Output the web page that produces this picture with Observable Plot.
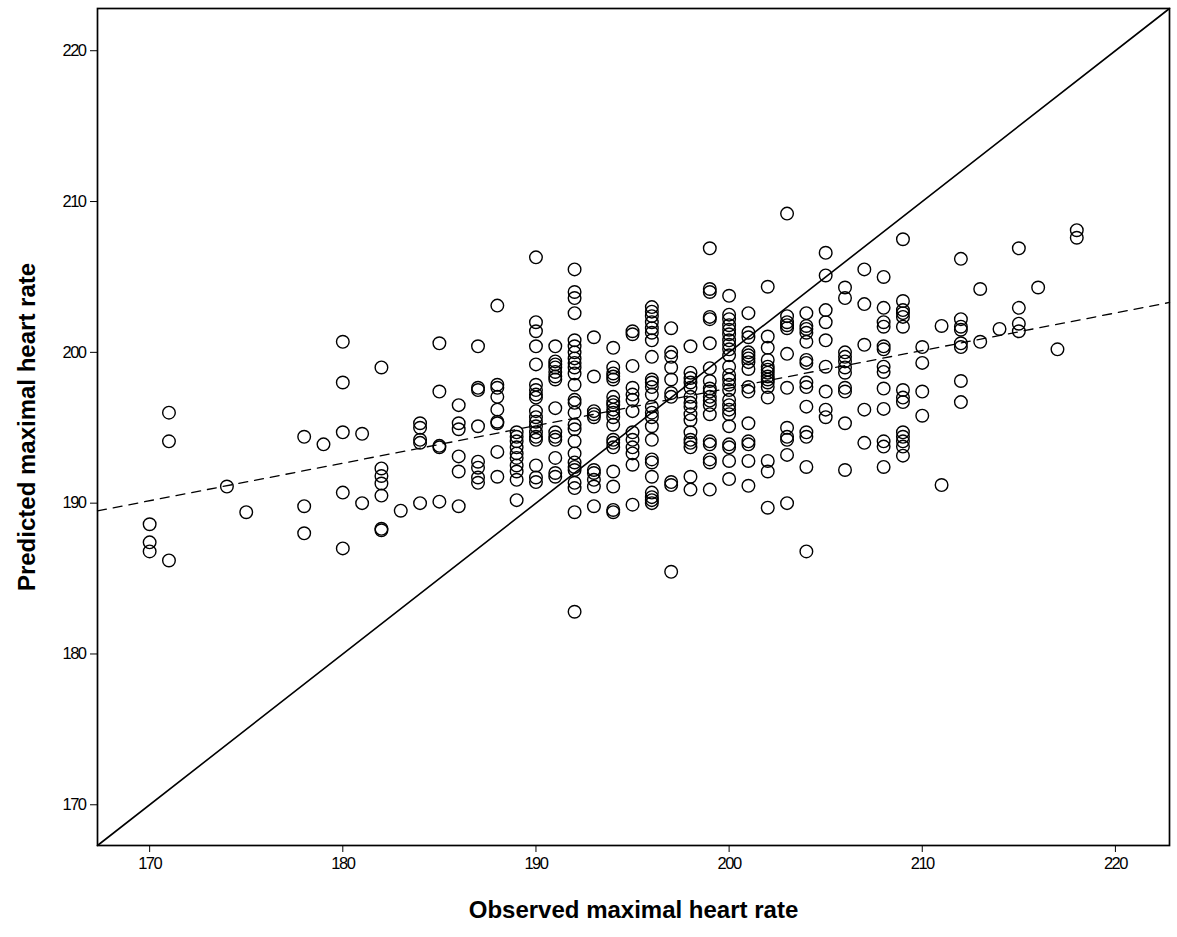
<!DOCTYPE html>
<html>
<head>
<meta charset="utf-8">
<script src="https://cdn.jsdelivr.net/npm/d3@7"></script>
<script src="https://cdn.jsdelivr.net/npm/@observablehq/plot@0.6"></script>
<style>
  html, body { margin: 0; padding: 0; background: #fff; }
  #chart { width: 1177px; height: 937px; }
</style>
</head>
<body>
<div id="chart"></div>
<script>
// Observed maximal heart rate (integer values along the x axis)
const observedHR = [170, 171, 174, 175, 178, 179, 180, 181, 182, 183, 184, 185, 186, 187, 188, 189,
  190, 191, 192, 193, 194, 195, 196, 197, 198, 199, 200, 201, 202, 203, 204, 205, 206, 207, 208, 209,
  210, 211, 212, 213, 214, 215, 216, 217, 218];

// Predicted maximal heart rate for each observed value (same order as observedHR)
const predictedHR = [
  [188.6, 187.4, 186.8],
  [196.0, 194.1, 186.2],
  [191.1],
  [189.4],
  [194.4, 189.8, 188.0],
  [193.9],
  [200.7, 198.0, 194.7, 190.7, 187.0],
  [194.6, 190.0],
  [199.0, 192.3, 191.8, 191.3, 190.5, 188.3, 188.2],
  [189.5],
  [195.3, 195.0, 194.2, 194.0, 190.0],
  [200.6, 197.4, 193.8, 193.7, 190.1],
  [196.5, 195.3, 194.9, 193.1, 192.1, 189.8],
  [200.4, 197.65, 197.5, 195.1, 192.75, 192.35, 191.7, 191.35],
  [203.1, 197.85, 197.65, 197.05, 196.2, 195.4, 195.3, 193.4, 191.75],
  [194.7, 194.4, 194.1, 193.7, 193.3, 193.0, 192.5, 192.1, 191.55, 190.2],
  [206.3, 202.0, 201.4, 200.4, 199.2, 197.85, 197.5, 197.2, 197.0, 196.1, 195.7, 195.4, 195.1, 194.7, 194.4, 194.2, 192.5, 191.7, 191.4],
  [200.4, 199.4, 199.2, 199.0, 198.7, 198.4, 198.2, 196.3, 194.7, 194.4, 194.2, 193.0, 192.0, 191.75],
  [205.5, 204.0, 203.6, 202.6, 200.8, 200.4, 200.0, 199.6, 199.3, 199.0, 198.6, 197.85, 196.85, 196.65, 196.0, 195.2, 194.9, 194.1, 193.3, 192.7, 192.4, 192.2, 191.35, 191.0, 189.4, 182.8],
  [201.0, 198.4, 196.1, 195.9, 195.7, 192.2, 192.0, 191.55, 191.1, 189.8],
  [200.3, 199.0, 198.6, 198.4, 198.2, 197.05, 196.7, 196.5, 196.2, 196.0, 195.7, 195.2, 194.2, 194.0, 193.7, 192.1, 191.1, 189.55, 189.4],
  [201.4, 201.2, 199.1, 197.65, 197.2, 196.85, 196.1, 194.7, 194.2, 193.7, 193.3, 192.55, 189.9],
  [203.0, 202.7, 202.4, 202.0, 201.6, 201.3, 200.8, 199.7, 198.2, 198.0, 197.7, 197.2, 196.4, 196.0, 195.7, 195.1, 194.2, 192.9, 192.7, 191.75, 190.7, 190.4, 190.2, 190.0],
  [201.6, 200.0, 199.7, 199.0, 198.2, 197.3, 197.05, 191.4, 191.2, 185.45],
  [200.4, 198.65, 198.3, 198.0, 197.65, 197.05, 196.65, 196.4, 195.9, 195.5, 194.7, 194.2, 194.0, 193.7, 191.75, 190.9],
  [206.9, 204.2, 204.0, 202.35, 202.2, 200.6, 198.95, 198.1, 197.6, 197.4, 197.05, 196.8, 196.5, 195.9, 194.1, 193.9, 192.9, 192.7, 190.9],
  [203.75, 202.5, 202.2, 201.8, 201.5, 201.2, 200.8, 200.5, 200.2, 199.8, 199.05, 198.5, 198.2, 197.85, 197.5, 196.85, 196.5, 196.2, 195.9, 195.1, 193.9, 193.7, 192.8, 191.6],
  [202.6, 201.3, 201.0, 200.0, 199.8, 199.6, 199.35, 198.9, 197.7, 197.4, 195.3, 194.1, 193.9, 192.8, 191.15],
  [204.35, 201.05, 200.3, 199.5, 199.05, 198.85, 198.65, 198.4, 198.2, 198.0, 197.7, 197.0, 192.8, 192.1, 189.7],
  [209.2, 202.4, 202.0, 201.8, 201.6, 199.9, 197.65, 195.0, 194.4, 194.2, 193.2, 190.0],
  [202.6, 201.75, 201.55, 201.3, 200.7, 199.5, 199.3, 198.0, 197.7, 196.4, 194.7, 194.4, 192.4, 186.8],
  [206.6, 205.1, 202.8, 202.0, 200.8, 199.05, 197.4, 196.2, 195.7],
  [204.3, 203.6, 200.0, 199.7, 199.4, 199.0, 198.65, 197.65, 197.4, 195.3, 192.2],
  [205.5, 203.2, 200.5, 196.2, 194.0],
  [205.0, 202.95, 202.0, 201.7, 200.4, 200.2, 199.05, 198.7, 197.6, 196.25, 194.1, 193.75, 192.4],
  [207.5, 203.4, 202.8, 202.6, 202.35, 201.7, 197.5, 197.0, 196.7, 194.7, 194.4, 194.1, 193.75, 193.15],
  [200.35, 199.3, 197.4, 195.8],
  [201.75, 191.2],
  [206.2, 202.2, 201.7, 201.5, 200.6, 200.35, 198.1, 196.7],
  [204.2, 200.7],
  [201.55],
  [206.9, 202.95, 201.9, 201.4],
  [204.3],
  [200.2],
  [208.1, 207.6]
];

// Fitted regression line (predicted on observed)
const regIntercept = 147.83;
const regSlope = 0.249;

// Axes
const axisDomain = [167.3, 222.8];
const xTicks = [170, 180, 190, 200, 210, 220];
const yTicks = [170, 180, 190, 200, 210, 220];
const xTitle = "Observed maximal heart rate";
const yTitle = "Predicted maximal heart rate";

const points = observedHR.flatMap((o, i) => predictedHR[i].map(p => ({observed: o, predicted: p})));
const identityLine = axisDomain.map(v => ({obs: v, pred: v}));
const fitLine = axisDomain.map(v => ({obs: v, pred: regIntercept + regSlope * v}));

const chart = Plot.plot({
  width: 1177,
  height: 937,
  marginLeft: 97,
  marginRight: 8,
  marginTop: 8,
  marginBottom: 92,
  style: {
    fontFamily: "'Liberation Sans Narrow', 'Liberation Sans', Arial, sans-serif",
    fontSize: "16.5px",
    color: "#000",
    background: "#fff"
  },
  x: {
    domain: axisDomain,
    ticks: xTicks,
    tickSize: 7,
    tickPadding: 5,
    label: xTitle,
    labelAnchor: "center",
    labelOffset: 72,
    labelArrow: "none"
  },
  y: {
    domain: axisDomain,
    ticks: yTicks,
    tickSize: 7,
    tickPadding: 5,
    label: yTitle,
    labelAnchor: "center",
    labelOffset: 80,
    labelArrow: "none"
  },
  marks: [
    Plot.frame({stroke: "#000", strokeWidth: 1.7}),
    Plot.line(identityLine, {x: "obs", y: "pred", stroke: "#000", strokeWidth: 1.6}),
    Plot.line(fitLine, {x: "obs", y: "pred", stroke: "#000", strokeWidth: 1.3, strokeDasharray: "9,7"}),
    Plot.dot(points, {x: "observed", y: "predicted", r: 6.3, stroke: "#000", strokeWidth: 1.4, fill: "none"})
  ]
});

document.getElementById("chart").appendChild(chart);

// Bold axis titles
d3.select(chart).selectAll('[aria-label="x-axis label"] text, [aria-label="y-axis label"] text')
  .style("font-family", "'Liberation Sans', Arial, sans-serif")
  .style("font-weight", "bold")
  .style("font-size", "24px");
d3.select(chart).selectAll('[aria-label="x-axis tick label"] text, [aria-label="y-axis tick label"] text')
  .style("letter-spacing", "-1.5px");
</script>
</body>
</html>
